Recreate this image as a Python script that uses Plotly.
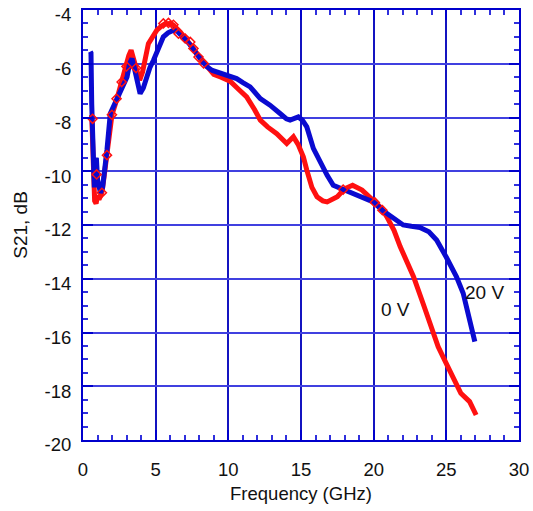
import plotly.graph_objects as go

# ---- data ----
blue_x = [0.50, 0.55, 0.60, 0.65, 0.70, 0.78, 0.85, 0.92, 1.00, 1.10, 1.20, 1.35, 1.50, 1.65,
          1.88, 2.10, 2.45, 2.75, 3.03, 3.20, 3.37, 3.55, 3.70, 3.93, 4.15, 4.39, 4.60, 4.85,
          5.20, 5.53, 5.85, 6.22, 6.50, 6.90, 7.30, 7.80, 8.20, 8.50, 8.90, 9.20, 9.80, 10.57,
          11.00, 11.50, 12.20, 12.87, 13.56, 14.00, 14.25, 14.55, 14.82, 15.10, 15.40, 15.85,
          16.30, 16.80, 17.22, 17.90, 18.37, 19.20, 19.97, 20.60, 21.20, 22.03, 22.60, 23.18,
          23.80, 24.33, 25.00, 25.70, 26.16, 26.60, 26.96]
blue_y = [-5.55, -5.6, -7.5, -9.0, -10.3, -10.6, -9.6, -9.5, -10.3, -10.7, -10.8, -10.6, -10.0, -9.2,
          -7.85, -7.6, -7.23, -6.8, -6.49, -6.0, -5.81, -6.2, -6.61, -7.11, -6.9, -6.49, -6.15, -5.87,
          -5.4, -5.0, -4.85, -4.75, -4.8, -5.0, -5.25, -5.62, -5.9, -6.1, -6.25, -6.3, -6.42, -6.55,
          -6.7, -6.86, -7.3, -7.54, -7.85, -8.05, -8.1, -8.05, -7.98, -8.1, -8.35, -9.15,
          -9.65, -10.15, -10.52, -10.68, -10.77, -10.95, -11.14, -11.45, -11.7, -12.0, -12.05, -12.09,
          -12.25, -12.56, -13.2, -13.93, -14.54, -15.5, -16.34]

red_x = [0.60, 0.70, 0.80, 0.90, 1.00, 1.10, 1.20, 1.30, 1.45, 1.65, 1.99, 2.34, 2.64, 2.96,
         3.15, 3.31, 3.50, 3.67, 3.90, 4.10, 4.50, 4.80, 5.08, 5.40, 5.66, 6.00, 6.23, 6.69,
         7.10, 7.60, 8.00, 8.52, 9.00, 9.50, 10.12, 10.70, 11.26, 11.80, 12.20, 12.70, 13.33,
         14.02, 14.30, 14.48, 14.80, 15.16, 15.40, 15.75, 16.10, 16.50, 16.80, 17.20, 17.50,
         18.00, 18.55, 19.20, 19.97, 20.50, 20.90, 21.40, 21.83, 22.30, 22.75, 23.40, 23.90,
         24.44, 25.10, 25.50, 26.00, 26.60, 27.05]
red_y = [-7.9, -9.5, -11.1, -11.2, -10.9, -11.05, -10.9, -10.8, -10.2, -9.4, -7.91, -7.3, -6.68, -6.12,
         -5.7, -5.5, -5.8, -6.18, -6.61, -6.3, -5.25, -5.0, -4.75, -4.6, -4.51, -4.5, -4.57, -4.82,
         -5.08, -5.43, -5.75, -6.12, -6.4, -6.5, -6.65, -6.95, -7.23, -7.7, -8.1, -8.35, -8.6,
         -8.97, -8.8, -8.72, -9.0, -9.46, -9.96, -10.6, -10.95, -11.1, -11.14, -11.05, -10.95,
         -10.65, -10.52, -10.7, -11.07, -11.35, -11.69, -12.2, -12.81, -13.35, -13.93, -14.92, -15.7,
         -16.53, -17.27, -17.75, -18.26, -18.57, -19.07]

marker_x = [0.66, 0.94, 1.30, 1.65, 1.99, 2.31, 2.66, 2.99, 3.65, 5.53, 5.88, 6.22,
            6.57, 7.03, 7.38, 7.60, 7.95, 8.30, 17.90, 20.08, 20.60]
marker_y = [-8.05, -10.12, -10.8, -9.4, -7.9, -7.3, -6.68, -6.1, -6.16, -4.5, -4.48, -4.55,
            -4.88, -5.06, -5.19, -5.43, -5.75, -5.99, -10.68, -11.16, -11.45]

label_text = ["0 V", "20 V"]
label_x = [21.5, 27.6]
label_y = [-15.15, -14.5]

x_ticks = [0, 5, 10, 15, 20, 25, 30]
x_ticktext = ["0", "5", "10", "15", "20", "25", "30"]
y_ticks = [-4, -6, -8, -10, -12, -14, -16, -18, -20]
y_ticktext = ["-4", "-6", "-8", "-10", "-12", "-14", "-16", "-18", "-20"]

FONT = "Liberation Sans, Arial, sans-serif"

fig = go.Figure()
fig.add_trace(go.Scatter(x=red_x, y=red_y, mode="lines",
                         line=dict(color="#ff1010", width=5), showlegend=False))
fig.add_trace(go.Scatter(x=blue_x, y=blue_y, mode="lines",
                         line=dict(color="#0a0ad0", width=5), showlegend=False))
fig.add_trace(go.Scatter(x=marker_x, y=marker_y, mode="markers",
                         marker=dict(symbol="diamond-open", size=7, color="#ff1010",
                                     line=dict(width=1.5, color="#ff1010")),
                         showlegend=False))

for t, x, y in zip(label_text, label_x, label_y):
    fig.add_annotation(x=x, y=y, text=t, showarrow=False,
                       font=dict(family=FONT, size=19, color="#111"))

axis_common = dict(
    showline=True, linecolor="#0000cc", linewidth=2, mirror="ticks",
    ticks="inside", ticklen=10, tickwidth=1.5, tickcolor="#0000cc",
    showgrid=True, gridwidth=1.5, zeroline=False, automargin=False,
    ticklabeloverflow="allow",
    tickfont=dict(family=FONT, size=18.5, color="#111"),
)

fig.update_xaxes(
    range=[0, 30], tickvals=x_ticks, ticktext=x_ticktext, gridcolor="#1414c0",
    minor=dict(dtick=1, ticks="inside", ticklen=5, tickwidth=1.5, tickcolor="#3030dd", showgrid=False),
    title=dict(text="Frequency (GHz)", font=dict(family=FONT, size=18.5, color="#111"), standoff=8),
    ticklabelstandoff=12,
    **axis_common)
fig.update_yaxes(
    range=[-20, -4], tickvals=y_ticks, ticktext=y_ticktext, gridcolor="#4040e0",
    minor=dict(dtick=0.5, ticks="inside", ticklen=5, tickwidth=1.5, tickcolor="#3030dd", showgrid=False),
    title=dict(text="S21, dB", font=dict(family=FONT, size=19, color="#111"), standoff=12),
    ticklabelstandoff=6, ticklabelshift=5,
    **axis_common)

fig.update_layout(
    width=533, height=511,
    margin=dict(l=83, r=14, t=10, b=71),
    paper_bgcolor="white", plot_bgcolor="white",
)

fig.write_html("out.html")
